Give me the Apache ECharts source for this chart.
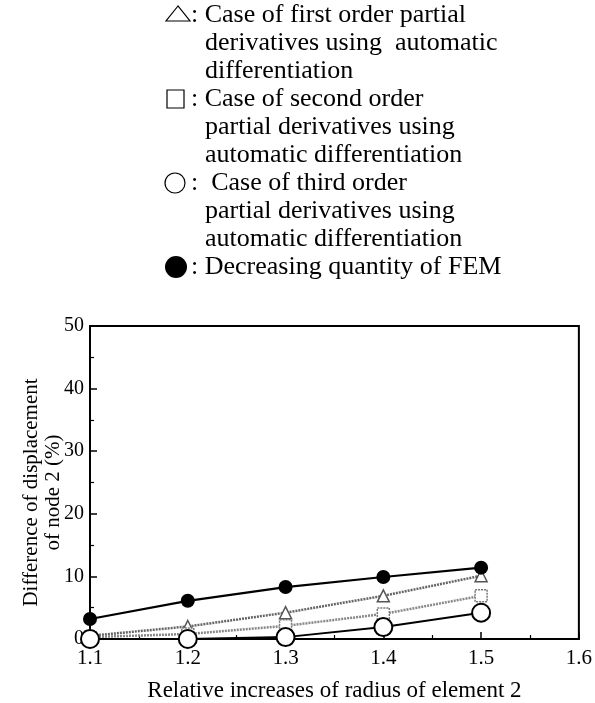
<!DOCTYPE html>
<html>
<head>
<meta charset="utf-8">
<script src="https://cdn.jsdelivr.net/npm/echarts@6/dist/echarts.min.js"></script>
<style>
  html, body { margin: 0; padding: 0; background: #fff; }
  #chart { width: 595px; height: 703px; }
</style>
</head>
<body>
<div id="chart"></div>
<script>
window.addEventListener('load', function() {
    var radius = [1.1, 1.2, 1.3, 1.4, 1.5];
    var firstOrder = [0.5, 2.0, 4.2, 6.9, 10.1];
    var secondOrder = [0.3, 0.8, 2.1, 4.0, 6.9];
    var thirdOrder = [0.0, 0.0, 0.3, 1.9, 4.2];
    var femDecrease = [3.2, 6.1, 8.3, 9.9, 11.4];

    var legendLines = [
        [': Case of first order partial', 'derivatives using  automatic', 'differentiation'],
        [': Case of second order', 'partial derivatives using', 'automatic differentiation'],
        [':  Case of third order', 'partial derivatives using', 'automatic differentiation'],
        [': Decreasing quantity of FEM']
    ];

    var font = '"Liberation Serif", "Times New Roman", serif';

    function pairs(vals) {
        return radius.map(function(r, i) { return [r, vals[i]]; });
    }

    // legend block drawn as graphics (symbol + text lines)
    var graphics = [];
    var lineH = 28;
    var y0 = 15;
    var row = 0;
    legendLines.forEach(function(lines, k) {
        var cy = y0 + row * lineH;
        if (k === 0) {
            graphics.push({ type: 'polygon', shape: { points: [[178, 6], [166, 21], [190, 21]] },
                style: { fill: 'none', stroke: '#000', lineWidth: 1.2 } });
        } else if (k === 1) {
            graphics.push({ type: 'rect', shape: { x: 167, y: cy - 9, width: 17, height: 18 },
                style: { fill: 'none', stroke: '#000', lineWidth: 1.2 } });
        } else if (k === 2) {
            graphics.push({ type: 'circle', shape: { cx: 175, cy: cy, r: 10 },
                style: { fill: 'none', stroke: '#000', lineWidth: 1.2 } });
        } else {
            graphics.push({ type: 'circle', shape: { cx: 176, cy: cy, r: 11 },
                style: { fill: '#000' } });
        }
        lines.forEach(function(t, j) {
            graphics.push({
                type: 'text',
                x: j === 0 ? 191 : 205,
                y: cy + j * lineH,
                style: { text: t, font: '26px ' + font, fill: '#000', verticalAlign: 'middle' }
            });
        });
        row += lines.length;
    });

    var myChart = echarts.init(document.getElementById('chart'));
    var option = {
        animation: false,
        grid: {
            left: 90,
            right: 11,
            top: 326,
            bottom: 63,
            show: true,
            borderColor: '#000',
            borderWidth: 2
        },
        graphic: graphics,
        xAxis: {
            type: 'value',
            min: 1.1,
            max: 1.6,
            interval: 0.1,
            name: 'Relative increases of radius of element 2',
            nameLocation: 'middle',
            nameGap: 40,
            nameMoveOverlap: false,
            nameTextStyle: { fontFamily: font, fontSize: 23, color: '#000' },
            axisLine: { lineStyle: { color: '#000', width: 2 } },
            axisTick: { inside: true, length: 7, lineStyle: { color: '#000', width: 1.5 } },
            minorTick: { show: true, splitNumber: 2, length: 4, lineStyle: { color: '#000', width: 1.2 } },
            splitLine: { show: false },
            axisLabel: {
                fontFamily: font, fontSize: 21, color: '#000', margin: 9,
                formatter: function(v) { return v.toFixed(1); }
            }
        },
        yAxis: {
            type: 'value',
            min: 0,
            max: 50,
            interval: 10,
            name: 'Difference of displacement\nof node 2 (%)',
            nameLocation: 'middle',
            nameRotate: 90,
            nameGap: 26,
            nameMoveOverlap: false,
            nameTextStyle: { fontFamily: font, fontSize: 21, color: '#000', lineHeight: 22, padding: [0, 20, 0, 0] },
            axisLine: { lineStyle: { color: '#000', width: 2 } },
            axisTick: { inside: true, length: 7, lineStyle: { color: '#000', width: 1.5 } },
            minorTick: { show: true, splitNumber: 2, length: 4, lineStyle: { color: '#000', width: 1.2 } },
            splitLine: { show: false },
            axisLabel: { fontFamily: font, fontSize: 20, color: '#000', margin: 6 }
        },
        series: [{
            name: 'Decreasing quantity of FEM',
            type: 'line',
            data: pairs(femDecrease),
            symbol: 'circle',
            symbolSize: 14,
            itemStyle: { color: '#000' },
            lineStyle: { color: '#000', width: 2.2 },
            z: 5
        }, {
            name: 'First order',
            type: 'line',
            data: pairs(firstOrder),
            symbol: 'triangle',
            symbolSize: 12,
            itemStyle: { color: '#fff', borderColor: '#555', borderWidth: 1.5 },
            lineStyle: { color: '#666', width: 2.5, type: [2, 1] },
            z: 3
        }, {
            name: 'Second order',
            type: 'line',
            data: pairs(secondOrder),
            symbol: 'rect',
            symbolSize: 12,
            itemStyle: { color: '#fff', borderColor: '#777', borderWidth: 1.5, borderType: [2, 1] },
            lineStyle: { color: '#888', width: 2.5, type: [2, 1] },
            z: 3
        }, {
            name: 'Third order',
            type: 'line',
            data: pairs(thirdOrder),
            symbol: 'circle',
            symbolSize: 18,
            itemStyle: { color: '#fff', borderColor: '#000', borderWidth: 2 },
            lineStyle: { color: '#000', width: 2 },
            z: 4
        }]
    };
    myChart.setOption(option);
});
</script>
</body>
</html>
